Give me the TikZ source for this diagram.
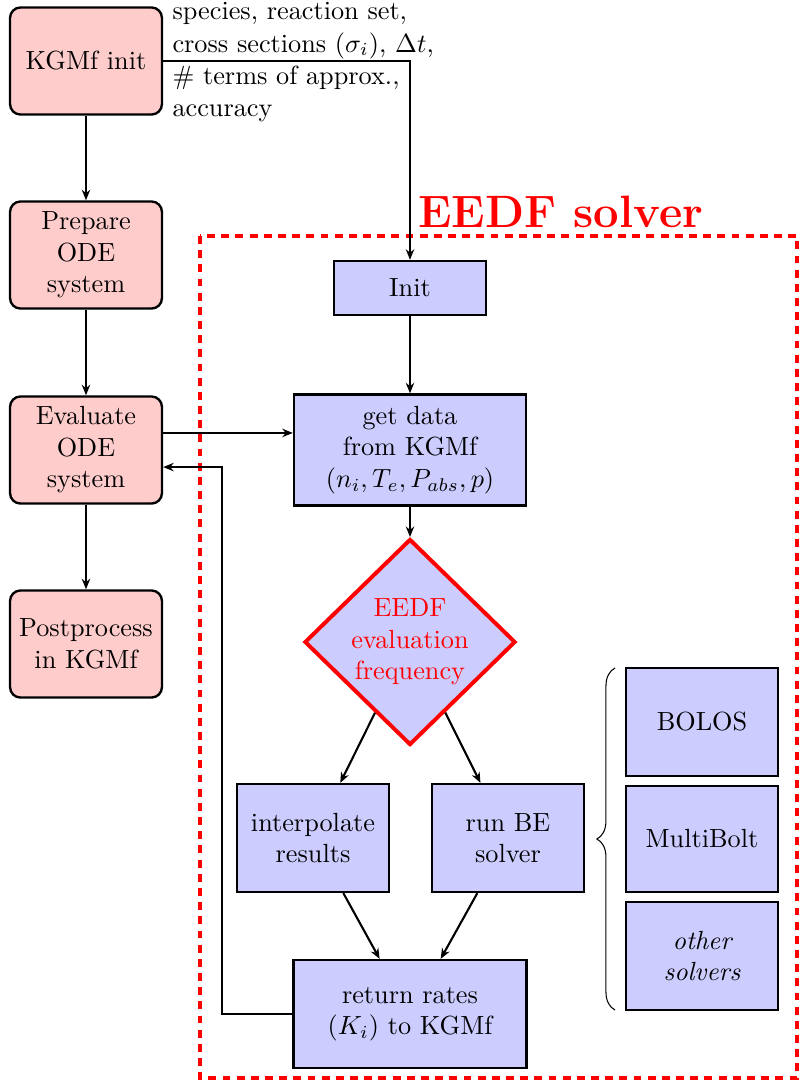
\documentclass[tikz,border=0pt]{standalone}
\usetikzlibrary{shapes.geometric,arrows.meta,decorations.pathreplacing,calc}
\begin{document}
\begin{tikzpicture}[x=0.381pt,y=-0.381pt,
  kbox/.style={draw,line width=0.9pt,rounded corners=4pt,fill=red!20,minimum width=57.9pt,minimum height=40.8pt,align=center,inner sep=2pt},
  sbox/.style={draw,line width=0.9pt,fill=blue!20,align=center,inner sep=2pt,minimum width=57.9pt,minimum height=41.1pt},
  arr/.style={-{Stealth[length=4pt,width=3.2pt]},thick}]
\useasboundingbox (0,0) rectangle (801,1084);

% left column
\node[kbox] (kinit) at (86,61) {KGMf init};
\node[kbox] (prep) at (86,255) {Prepare\\ODE\\system};
\node[kbox] (eval) at (86,450) {Evaluate\\ODE\\system};
\node[kbox] (post) at (86,644) {Postprocess\\in KGMf};
\node[anchor=north west,inner sep=0pt,align=left] (params) at (172,2)
  {species, reaction set,\\[0.3pt]cross sections ($\sigma_i$), $\Delta t$,\\[0.3pt]\# terms of approx.,\\[0.3pt]accuracy};

% solver frame
\draw[red,very thick,dash pattern=on 3pt off 2.4pt] (200,236) rectangle (797,1078);
\node[text=red,font=\LARGE\bfseries,anchor=base west,inner sep=0pt] (title) at (418,227) {EEDF solver};

% solver nodes
\node[sbox,minimum width=57.9pt,minimum height=20.6pt] (init) at (410,288) {Init};
\node[sbox,minimum width=88.4pt,minimum height=42.3pt] (get) at (410,450) {get data\\from KGMf\\$(n_i,T_e,P_{abs},p)$};
\node[diamond,draw=red,line width=1.5pt,fill=blue!20,text=red,minimum width=80.4pt,minimum height=78.5pt,align=center,inner sep=0pt] (freq) at (410,642) {EEDF\\evaluation\\frequency};
\node[sbox] (interp) at (313,838) {interpolate\\results};
\node[sbox] (runbe) at (508,838) {run BE\\solver};
\node[sbox,minimum width=88.8pt] (ret) at (410,1014) {return rates\\$(K_i)$ to KGMf};
\node[sbox] (bolos) at (702,722) {BOLOS};
\node[sbox,minimum height=40.4pt] (multi) at (702,839) {MultiBolt};
\node[sbox,font=\itshape] (other) at (702,956) {other\\solvers};
\draw[decorate,decoration={brace,amplitude=6.9pt}] (615,1010) -- (615,668);

\coordinate (turn) at (222,700);

% connectors
\draw[arr] (kinit.south) -- (prep.north);
\draw[arr] (prep.south) -- (eval.north);
\draw[arr] (eval.south) -- (post.north);
\draw[arr] (kinit.east) -| (init.north);
\draw[arr] ([yshift=6.5pt]eval.east) -- ([yshift=6.5pt]eval.east -| get.west);
\draw[arr] (ret.west) -- (ret.west -| turn) |- ([yshift=-6.5pt]eval.east);
\draw[arr] (init) -- (get);
\draw[arr] (get) -- (freq);
\draw[arr] (freq) -- (interp);
\draw[arr] (freq) -- (runbe);
\draw[arr] (interp) -- (ret);
\draw[arr] (runbe) -- (ret);
\end{tikzpicture}
\end{document}
